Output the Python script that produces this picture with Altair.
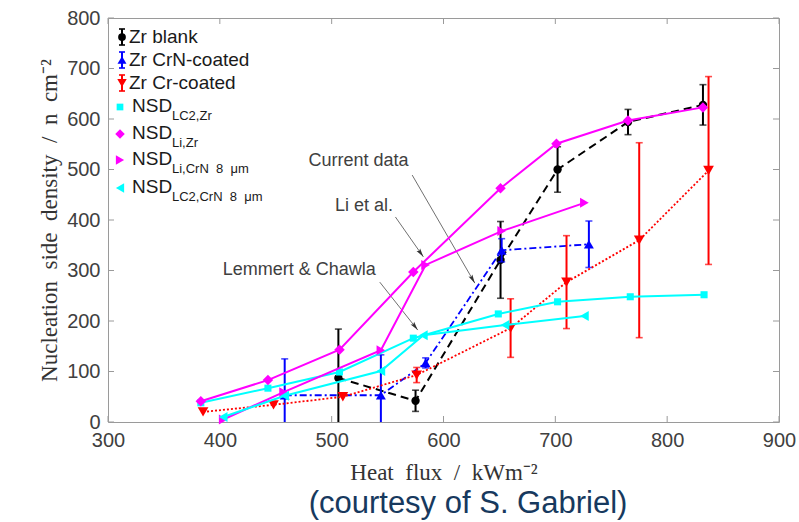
import altair as alt
import pandas as pd

# ---- measured series -------------------------------------------------------
# Zr blank (mean +/- spread)
blank_x = [506, 575, 651, 702, 765, 832]
blank_y = [87, 42, 321, 500, 594, 628]
blank_err = [97, 21, 76, 45, 25, 40]

# Zr CrN-coated
crn_x = [458, 544, 584, 652, 730]
crn_y = [53, 53, 117, 340, 352]
crn_err = [72, 80, 10, 23, 46]

# Zr Cr-coated
cr_x = [385, 448, 510, 576, 660, 710, 775, 837]
cr_y = [20, 34, 50, 93, 186, 277, 360, 498]
cr_err = [0, 0, 0, 15, 58, 92, 193, 186]

# ---- model predictions -----------------------------------------------------
lc2zr_x = [383, 443, 507, 573, 649, 702, 767, 833]
lc2zr_y = [38, 67, 99, 166, 214, 238, 248, 252]

lizr_x = [383, 443, 507, 573, 651, 701, 765, 832]
lizr_y = [41, 83, 143, 297, 463, 551, 597, 623]

licrn_x = [403, 457, 544, 584, 652, 726]
licrn_y = [5, 59, 142, 311, 378, 434]

lc2crn_x = [403, 458, 544, 582, 655, 726]
lc2crn_y = [10, 52, 101, 172, 192, 210]

# ---- axes ------------------------------------------------------------------
x_ticks = [300, 400, 500, 600, 700, 800, 900]
y_ticks = [0, 100, 200, 300, 400, 500, 600, 700, 800]

# ---- annotations -----------------------------------------------------------
note_text = ["Current data", "Li et al.", "Lemmert & Chawla"]
note_x = [524, 529, 471]
note_y = [516, 428, 301]
arrow_x0 = [572, 557, 543]
arrow_y0 = [489, 406, 277]
arrow_x1 = [628, 582, 577]
arrow_y1 = [275, 327, 182]

SANS = "Liberation Sans"
SERIF = "Liberation Serif"
W, H = 671, 404
GRAY = "#9a9a9a"
TXT = "#404040"
WIDE = "\u2002"  # en space between title words

x_scale = alt.Scale(domain=[300, 900], nice=False, zero=False)
y_scale = alt.Scale(domain=[0, 800], nice=False)

x_axis = alt.Axis(
    values=x_ticks, ticks=False, domain=False, grid=False, labelFlush=False,
    labelFont=SANS, labelFontSize=20, labelColor=TXT, labelPadding=8,
    title=WIDE.join(["Heat", "flux", "/", "kWm⁻²"]), titleFont=SERIF, titleFontSize=23,
    titleFontWeight="normal", titleColor="#333333", titlePadding=11,
)
y_axis = alt.Axis(
    values=y_ticks, ticks=False, domain=False, grid=False, labelFlush=False,
    labelFont=SANS, labelFontSize=20, labelColor=TXT, labelPadding=8,
    title=WIDE.join(["Nucleation", "side", "density", "/", "n", "cm⁻²"]),
    titleFont=SERIF, titleFontSize=23, titleFontWeight="normal",
    titleColor="#333333", titlePadding=5,
)

X = alt.X("x:Q", scale=x_scale, axis=x_axis)
Y = alt.Y("y:Q", scale=y_scale, axis=y_axis)


def frame(xv, yv, err=None):
    d = {"x": xv, "y": yv}
    if err is not None:
        d["err"] = err
    return pd.DataFrame(d)


def series(xv, yv, color, shape, size, dash=None, width=2.0, err=None):
    df = frame(xv, yv, err)
    line_kw = dict(color=color, strokeWidth=width, clip=True)
    if dash:
        line_kw["strokeDash"] = dash
    layers = [alt.Chart(df).mark_line(**line_kw).encode(x=X, y=Y)]
    if err is not None:
        eb = (
            alt.Chart(df)
            .transform_filter("datum.err > 0")
            .transform_calculate(lo="datum.y - datum.err", hi="datum.y + datum.err")
        )
        layers.append(
            eb.mark_rule(color=color, strokeWidth=2, clip=True).encode(
                x=X, y=alt.Y("lo:Q", scale=y_scale, axis=y_axis), y2="hi:Q"
            )
        )
        for end in ("lo", "hi"):
            layers.append(
                eb.mark_tick(orient="horizontal", size=7, thickness=1.6,
                             color=color, clip=True).encode(
                    x=X, y=alt.Y(f"{end}:Q", scale=y_scale, axis=y_axis)
                )
            )
    layers.append(
        alt.Chart(df).mark_point(shape=shape, size=size, filled=True,
                                 color=color, opacity=1).encode(x=X, y=Y)
    )
    return layers


one = pd.DataFrame({"k": [0]})


def legend_row(ry, color, shape, size, label=None, sub=None, errbar=False):
    out = []
    if errbar:
        sx = 14
        out.append(alt.Chart(one).mark_rule(color=color, strokeWidth=2).encode(
            x=alt.value(sx), y=alt.value(ry - 8), y2=alt.value(ry + 8)))
        for cy in (ry - 8, ry + 8):
            out.append(alt.Chart(one).mark_rule(color=color, strokeWidth=1.6).encode(
                x=alt.value(sx - 3), x2=alt.value(sx + 3), y=alt.value(cy)))
        out.append(alt.Chart(one).mark_point(shape=shape, size=size, filled=True,
                                             color=color, opacity=1).encode(
            x=alt.value(sx), y=alt.value(ry)))
        out.append(alt.Chart(one).mark_text(
            align="left", baseline="middle", font=SANS, fontSize=19, color="#1a1a1a"
        ).encode(x=alt.value(21), y=alt.value(ry), text=alt.value(label)))
    else:
        sx = 12
        out.append(alt.Chart(one).mark_point(shape=shape, size=size, filled=True,
                                             color=color, opacity=1).encode(
            x=alt.value(sx), y=alt.value(ry)))
        out.append(alt.Chart(one).mark_text(
            align="left", baseline="middle", font=SANS, fontSize=19, color="#1a1a1a"
        ).encode(x=alt.value(24), y=alt.value(ry - 1), text=alt.value("NSD")))
        out.append(alt.Chart(one).mark_text(
            align="left", baseline="middle", font=SANS, fontSize=13, color="#1a1a1a"
        ).encode(x=alt.value(64), y=alt.value(ry + 9), text=alt.value(sub)))
    return out


layers = []

# inward box ticks on all four sides
xt = pd.DataFrame({"x": x_ticks})
yt = pd.DataFrame({"y": y_ticks})
layers.append(alt.Chart(xt).mark_rule(color=GRAY, strokeWidth=1).encode(
    x=X, y=alt.value(H), y2=alt.value(H - 6)))
layers.append(alt.Chart(xt).mark_rule(color=GRAY, strokeWidth=1).encode(
    x=X, y=alt.value(0), y2=alt.value(6)))
layers.append(alt.Chart(yt).mark_rule(color=GRAY, strokeWidth=1).encode(
    y=Y, x=alt.value(0), x2=alt.value(6)))
layers.append(alt.Chart(yt).mark_rule(color=GRAY, strokeWidth=1).encode(
    y=Y, x=alt.value(W), x2=alt.value(W - 6)))

# annotation arrows and labels
notes = pd.DataFrame({"text": note_text, "x": note_x, "y": note_y})
arrows = pd.DataFrame({"x": arrow_x0, "y": arrow_y0, "x2": arrow_x1, "y2": arrow_y1,
                       "ang": [150, 145, 142]})
layers.append(alt.Chart(arrows).mark_rule(color="#707070", strokeWidth=1).encode(
    x=X, y=Y, x2="x2:Q", y2="y2:Q"))
layers.append(alt.Chart(arrows).mark_point(
    shape="M0,0L-0.55,2.2L0,1.8L0.55,2.2Z", size=64, filled=True,
    color="#333333", opacity=1).encode(
    x=alt.X("x2:Q", scale=x_scale, axis=x_axis),
    y=alt.Y("y2:Q", scale=y_scale, axis=y_axis),
    angle=alt.Angle("ang:Q", scale=None)))
layers.append(alt.Chart(notes).mark_text(
    font=SANS, fontSize=18, color=TXT, align="center", baseline="middle").encode(
    x=X, y=Y, text="text:N"))

# data series
layers += series(blank_x, blank_y, "#000000", "circle", 70, dash=[8, 5], err=blank_err)
layers += series(crn_x, crn_y, "#0000FF", "triangle-up", 100, dash=[7, 3, 2, 3],
                 width=1.8, err=crn_err)
layers += series(cr_x, cr_y, "#FF0000", "triangle-down", 115, dash=[2, 2],
                 width=1.8, err=cr_err)
layers += series(lc2zr_x, lc2zr_y, "#00FFFF", "square", 50)
layers += series(lizr_x, lizr_y, "#FF00FF", "diamond", 110)
layers += series(licrn_x, licrn_y, "#FF00FF", "triangle-right", 100)
layers += series(lc2crn_x, lc2crn_y, "#00FFFF", "triangle-left", 100)

# legend
layers += legend_row(19, "#000000", "circle", 60, label="Zr blank", errbar=True)
layers += legend_row(42, "#0000FF", "triangle-up", 80, label="Zr CrN-coated", errbar=True)
layers += legend_row(65, "#FF0000", "triangle-down", 90, label="Zr Cr-coated", errbar=True)
layers += legend_row(89, "#00FFFF", "square", 45, sub="LC2,Zr")
layers += legend_row(116, "#FF00FF", "diamond", 90, sub="Li,Zr")
layers += legend_row(142, "#FF00FF", "triangle-right", 90,
                     sub="Li,CrN\u00a0\u00a08\u00a0\u00a0μm")
layers += legend_row(170, "#00FFFF", "triangle-left", 90,
                     sub="LC2,CrN\u00a0\u00a08\u00a0\u00a0μm")

# caption under the chart
layers.append(alt.Chart(one).mark_text(
    font=SANS, fontSize=31, color="#17395E", align="center", baseline="middle").encode(
    x=alt.value(360), y=alt.value(486), text=alt.value("(courtesy of S. Gabriel)")))

chart = (
    alt.layer(*layers)
    .properties(
        width=W, height=H,
        autosize=alt.AutoSizeParams(type="none"),
        padding={"left": 108, "top": 18, "right": 20, "bottom": 100},
        background="white",
    )
    .configure_view(stroke=GRAY, strokeWidth=1)
)

chart.save("out.html", embed_options={"renderer": "svg", "actions": False})
